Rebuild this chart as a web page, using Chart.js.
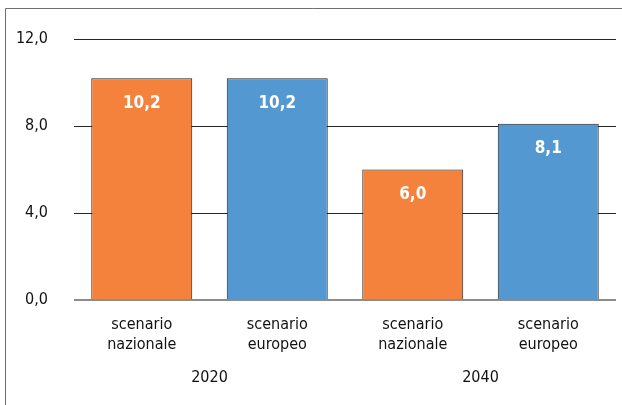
<!DOCTYPE html>
<html>
<head>
<meta charset="utf-8">
<script src="https://cdn.jsdelivr.net/npm/chart.js@4/dist/chart.umd.min.js"></script>
<style>
	html, body { margin: 0; padding: 0; background: #fff; }
	#box { position: relative; width: 622px; height: 405px; }
</style>
</head>
<body>
<div id="box"><canvas id="graficoScenari" width="622" height="405"></canvas></div>
<script>
var scenari = [['scenario', 'nazionale'], ['scenario', 'europeo'], ['scenario', 'nazionale'], ['scenario', 'europeo']];
var anni = ['2020', '2040'];
var valori = [10.2, 10.2, 6.0, 8.1];
var colori = ['#f5823c', '#5498d2', '#f5823c', '#5498d2'];
var tickY = [0, 4, 8, 12];

var FONT = '"Liberation Sans Narrow", "DejaVu Sans Condensed", "Arial Narrow", sans-serif';

function virgola(v) {
	return Number(v).toFixed(1).replace('.', ',');
}

// cornice grigia in alto e a sinistra
var cornice = {
	id: 'cornice',
	beforeDraw: function(chart) {
		var ctx = chart.ctx;
		ctx.save();
		ctx.strokeStyle = '#6e6e6e';
		ctx.lineWidth = 1;
		ctx.beginPath();
		ctx.moveTo(5.5, chart.height);
		ctx.lineTo(5.5, 8.5);
		ctx.lineTo(chart.width, 8.5);
		ctx.stroke();
		ctx.restore();
	}
};

// valori in bianco dentro le barre
var etichette = {
	id: 'etichette',
	afterDatasetsDraw: function(chart) {
		var ctx = chart.ctx;
		var meta = chart.getDatasetMeta(0);
		ctx.save();
		ctx.fillStyle = '#fff';
		ctx.font = 'bold 17px ' + FONT;
		ctx.textAlign = 'center';
		ctx.textBaseline = 'middle';
		meta.data.forEach(function(bar, i) {
			ctx.fillText(virgola(valori[i]), bar.x, bar.y + 25);
		});
		ctx.restore();
	}
};

var ctx = document.getElementById('graficoScenari').getContext('2d');
var grafico = new Chart(ctx, {
	type: 'bar',
	data: {
		labels: scenari,
		datasets: [{
			data: valori,
			backgroundColor: colori,
			borderColor: '#222',
			borderWidth: 1,
			borderSkipped: 'bottom',
			categoryPercentage: 1,
			barPercentage: 0.745
		}]
	},
	options: {
		responsive: false,
		animation: false,
		layout: { padding: { left: 10, right: 6, top: 39, bottom: 18 } },
		plugins: {
			legend: { display: false },
			tooltip: { enabled: false }
		},
		scales: {
			y: {
				min: 0,
				max: 12,
				afterBuildTicks: function(scale) {
					scale.ticks = tickY.map(function(v) { return { value: v }; });
				},
				afterFit: function(scale) { scale.width = 64; },
				border: { display: false },
				grid: {
					drawTicks: false,
					color: function(c) { return c.tick.value === 0 ? '#8c8c8c' : '#262626'; },
					lineWidth: function(c) { return c.tick.value === 0 ? 2 : 1; }
				},
				ticks: {
					padding: 26,
					color: '#111',
					font: { family: FONT, size: 16 },
					callback: function(v) { return virgola(v); }
				}
			},
			x: {
				grid: { display: false, drawTicks: false },
				border: { display: false },
				afterFit: function(scale) { scale.height = 55; },
				ticks: {
					padding: 15,
					color: '#111',
					maxRotation: 0,
					font: { family: FONT, size: 16, lineHeight: 1.25 }
				}
			},
			anni: {
				type: 'category',
				position: 'bottom',
				labels: anni,
				offset: true,
				grid: { display: false, drawTicks: false },
				border: { display: false },
				afterFit: function(scale) { scale.height = 32; },
				ticks: {
					padding: 13,
					color: '#111',
					font: { family: FONT, size: 16 }
				}
			}
		}
	},
	plugins: [cornice, etichette]
});
</script>
</body>
</html>
